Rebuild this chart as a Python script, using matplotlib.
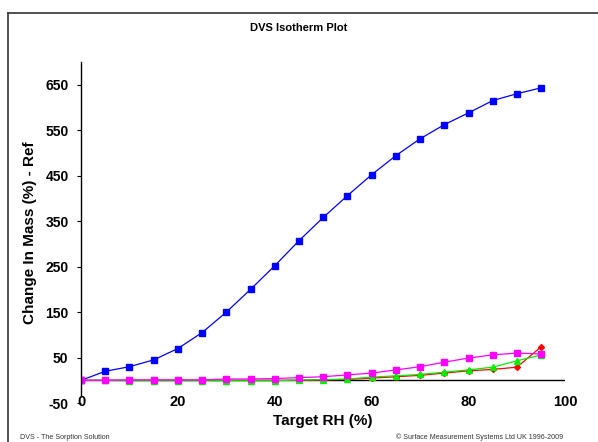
import matplotlib
matplotlib.use("Agg")
import matplotlib.pyplot as plt
from matplotlib.lines import Line2D

plt.rcParams['font.family'] = ['Liberation Sans', 'DejaVu Sans']
plt.rcParams['axes.unicode_minus'] = False

rh = [0, 5, 10, 15, 20, 25, 30, 35, 40, 45, 50, 55, 60, 65, 70, 75, 80, 85, 90, 95]
blue = [0, 20, 30, 45, 70, 105, 150, 200, 252, 307, 358, 406, 452, 494, 531, 562, 588, 615, 630, 643]
magenta = [0, 0, 1, 1, 1, 1, 3, 3, 4, 6, 8, 12, 16, 23, 30, 40, 49, 56, 60, 58]
green = [0, 0, -1, -1, -1, -1, -1, -1, -1, 1, 1.5, 3, 7, 10, 13, 18, 23, 29, 43, 56]
red = [0, 0, 0, 0, 0, 0, 0, 0, 0, 0, 1, 2, 5, 8, 11, 16, 21, 24, 29, 74]

yticks = [-50, 50, 150, 250, 350, 450, 550, 650]
xticks = [0, 20, 40, 60, 80, 100]

fig = plt.figure(figsize=(5.98, 4.42), dpi=100)
ax = fig.add_axes([0.1355, 0.088, 0.81, 0.772])

ax.plot(rh, blue, color='#0000ff', marker='s', ms=4, lw=0.9)
ax.plot(rh, red, color='#ff0000', marker='D', ms=3, lw=0.9)
ax.plot(rh, green, color='#00ee00', marker='^', ms=4.5, lw=0.9)
ax.plot(rh, magenta, color='#ff00ff', marker='s', ms=4, lw=0.9)

ax.axhline(0, color='black', lw=1, zorder=0)
ax.set_xlim(0, 100)
ax.set_ylim(-50, 700)
ax.set_xticks(xticks)
ax.set_yticks(yticks)
ax.tick_params(axis='x', length=0, labelsize=10.5, pad=-6)
ax.tick_params(axis='y', length=3, labelsize=10, pad=6)
for t in ax.get_xticklabels() + ax.get_yticklabels():
    t.set_fontweight('bold')
for s in ['top', 'right', 'bottom']:
    ax.spines[s].set_visible(False)
ax.spines['left'].set_bounds(-35, 700)
ax.spines['left'].set_linewidth(1)

ax.set_xlabel('Target RH (%)', fontsize=11, fontweight='bold', labelpad=4)
ax.set_ylabel('Change In Mass (%) - Ref', fontsize=11, fontweight='bold', labelpad=6)

fig.text(0.5, 0.936, 'DVS Isotherm Plot', ha='center', va='center', fontsize=8, fontweight='bold')
fig.text(0.034, 0.003, 'DVS - The Sorption Solution', ha='left', va='bottom', fontsize=5.1, color='#333333')
fig.text(0.942, 0.003, '\u00a9 Surface Measurement Systems Ltd UK 1996-2009', ha='right', va='bottom', fontsize=5.1, color='#333333')

top = 1 - 13 / 442
left = 8 / 598
fig.add_artist(Line2D([left, 1.0], [top, top], transform=fig.transFigure, color='#333333', lw=1.2))
fig.add_artist(Line2D([left, left], [0.0, top], transform=fig.transFigure, color='#333333', lw=1.2))

fig.savefig('out.png', dpi=100)
